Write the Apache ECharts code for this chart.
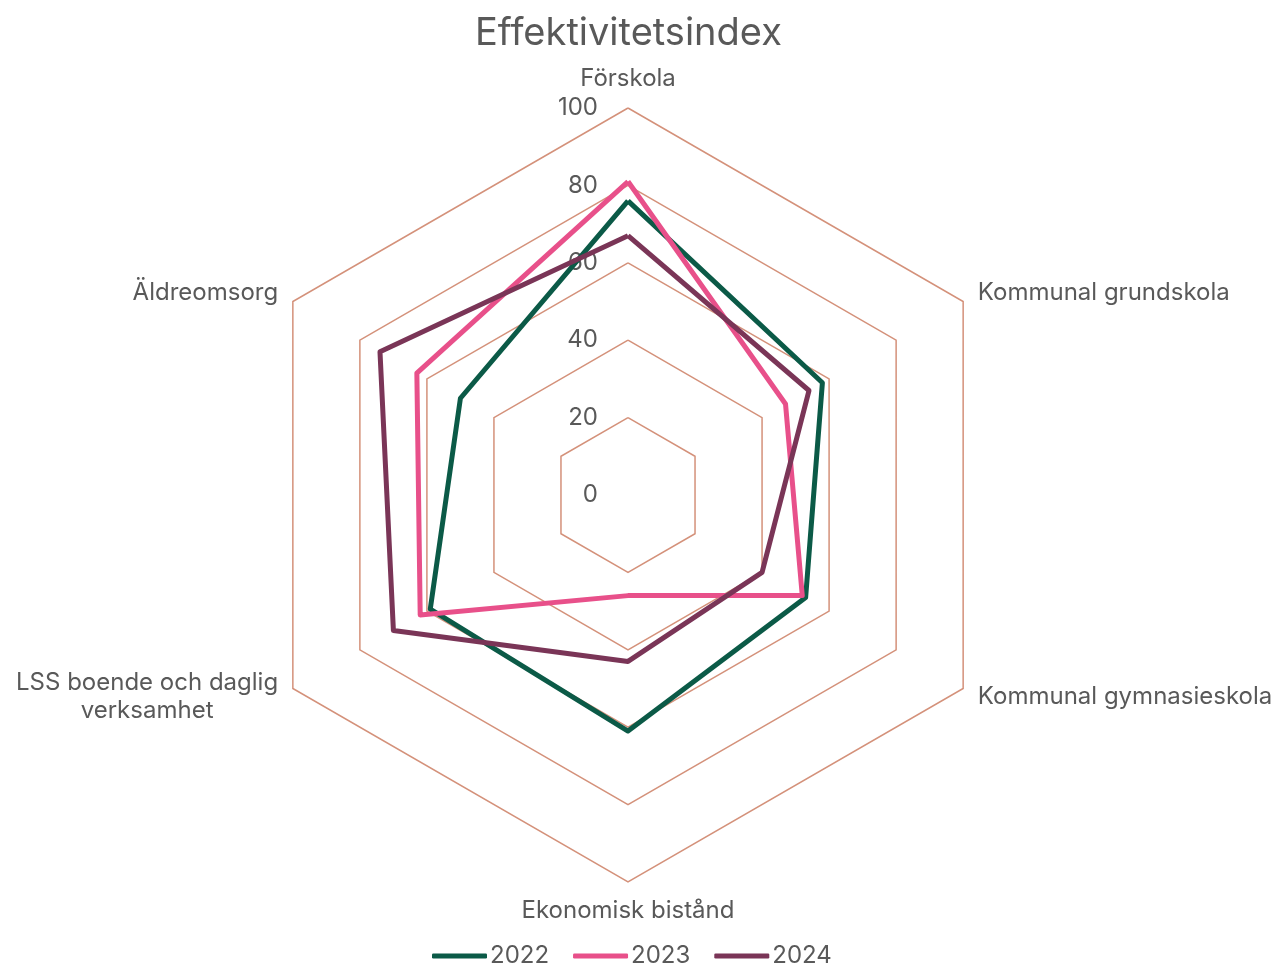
<!DOCTYPE html>
<html>
<head>
<meta charset="utf-8">
<script src="https://cdn.jsdelivr.net/npm/echarts@6/dist/echarts.min.js"></script>
<style>
  html, body { margin: 0; padding: 0; background: #fff; }
  #chart { width: 1274px; height: 964px; }
</style>
</head>
<body>
<div id="chart"></div>
<script>
// categories, clockwise from the top
const categories = ['Förskola', 'Kommunal grundskola', 'Kommunal gymnasieskola',
  'Ekonomisk bistånd', 'LSS boende och daglig\nverksamhet', 'Äldreomsorg'];
const years = ['2022', '2023', '2024'];
const values2022 = [76, 58, 53, 61, 59, 50];
const values2023 = [81, 47, 52, 26, 62, 63];
const values2024 = [67, 54, 40, 43, 70, 74];
const colors = ['#0b5a47', '#e8508a', '#7a3557'];

// echarts lays indicators counterclockwise, so flip everything after the first
const flip = (arr) => [arr[0]].concat(arr.slice(1).reverse());

var dom = document.getElementById('chart');
var myChart = echarts.init(dom);

var indicator = flip(categories).map(function (name, i) {
  var ind = { name: name, min: 0, max: 100 };
  if (i === 0) {
    ind.axisLabel = { show: true };
  }
  return ind;
});

var option = {
  backgroundColor: '#fff',
  color: colors,
  textStyle: { fontFamily: 'Inter' },
  title: {
    text: 'Effektivitetsindex',
    left: 470,
    top: 10,
    textStyle: { fontSize: 38, fontWeight: 'normal', color: '#595959', fontFamily: 'Inter' }
  },
  legend: {
    bottom: -9,
    left: 427,
    itemWidth: 55,
    itemHeight: 5,
    itemGap: 24,
    icon: 'roundRect',
    textStyle: { fontSize: 24, color: '#595959', padding: [0, 0, 0, -2] },
    data: years
  },
  radar: {
    center: [628, 495],
    radius: 387,
    shape: 'polygon',
    splitNumber: 5,
    startAngle: 90,
    indicator: indicator,
    axisName: {
      color: '#595959',
      fontSize: 24,
      fontFamily: 'Inter',
      formatter: function (name) {
        if (name.indexOf('\n') < 0) return name;
        return name.split('\n').map(function (s) { return '{c|' + s + '}'; }).join('\n');
      },
      rich: {
        c: { align: 'center', fontSize: 24, color: '#595959', fontFamily: 'Inter', lineHeight: 28 }
      }
    },
    nameGap: 17,
    axisLine: { show: false },
    axisTick: { show: false },
    axisLabel: {
      show: false,
      fontSize: 24,
      color: '#595959',
      margin: 30
    },
    splitLine: { lineStyle: { color: '#d4917a', width: 1.5 } },
    splitArea: { show: false }
  },
  series: [{
    type: 'radar',
    symbol: 'none',
    lineStyle: { width: 5 },
    data: [
      { name: years[0], value: flip(values2022) },
      { name: years[1], value: flip(values2023) },
      { name: years[2], value: flip(values2024) }
    ]
  }]
};
if (option && typeof option === "object") {
  myChart.setOption(option, true);
}
</script>
</body>
</html>
